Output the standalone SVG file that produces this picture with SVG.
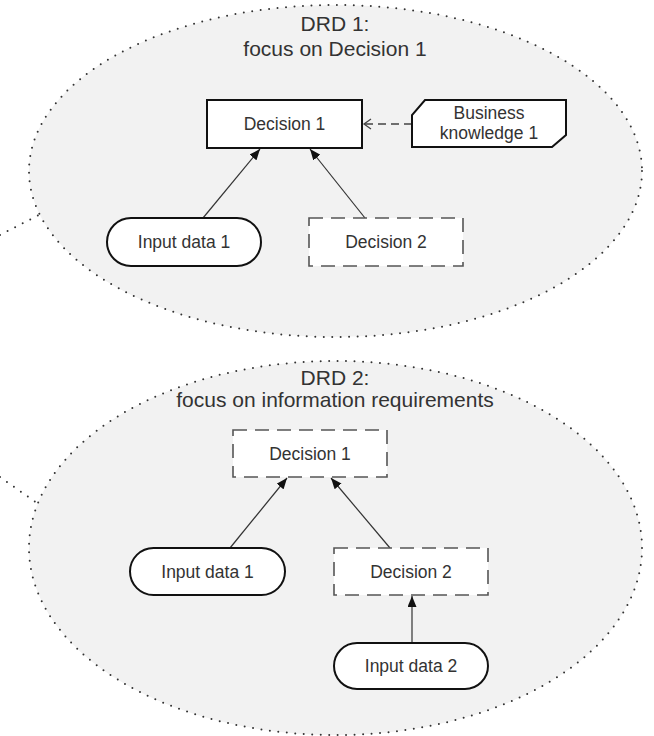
<svg xmlns="http://www.w3.org/2000/svg" width="654" height="736" viewBox="0 0 654 736">
  <defs>
    <marker id="arrow" markerUnits="userSpaceOnUse" markerWidth="12" markerHeight="9" refX="11" refY="4.5" orient="auto">
      <path d="M0,0 L11,4.5 L0,9 z" fill="#111"/>
    </marker>
    <marker id="open" markerUnits="userSpaceOnUse" markerWidth="10" markerHeight="12" refX="8" refY="6" orient="auto">
      <path d="M1,1 L8,6 L1,11" fill="none" stroke="#444" stroke-width="1.3"/>
    </marker>
    <style>
      .drd { fill: #f2f2f2; stroke: #333; stroke-width: 2; stroke-dasharray: 0 8.5; stroke-linecap: round; }
      .tail { fill: none; stroke: #333; stroke-width: 2; stroke-dasharray: 0 8.5; stroke-linecap: round; }
      .title { font-family: "Liberation Sans", Arial, sans-serif; font-size: 21px; fill: #333; text-anchor: middle; }
      .label { font-family: "Liberation Sans", Arial, sans-serif; font-size: 17.5px; fill: #333; text-anchor: middle; }
      .solid { fill: #fff; stroke: #111; stroke-width: 2; }
      .dashed { fill: #fff; stroke: #555; stroke-width: 1.6; stroke-dasharray: 14 8; }
      .req { fill: none; stroke: #333; stroke-width: 1.2; marker-end: url(#arrow); }
      .kreq { fill: none; stroke: #444; stroke-width: 1.5; stroke-dasharray: 8 5; marker-end: url(#open); }
    </style>
  </defs>

  <!-- DRD 1 -->
  <g id="drd1">
    <polyline class="tail" points="0,235 39,215"/>
    <ellipse class="drd" cx="335.5" cy="171" rx="306.5" ry="166"/>
    <text class="title" x="335" y="31">DRD 1:</text>
    <text class="title" x="335" y="56">focus on Decision 1</text>
  </g>

  <!-- DRD 2 -->
  <g id="drd2">
    <polyline class="tail" points="0,477 37,503"/>
    <ellipse class="drd" cx="335.5" cy="548" rx="306.5" ry="187"/>
    <text class="title" x="335" y="385">DRD 2:</text>
    <text class="title" x="335" y="407">focus on information requirements</text>
  </g>

  <!-- connectors -->
  <g id="connectors">
    <line class="kreq" x1="412" y1="124" x2="364" y2="124"/>
    <line class="req" x1="203" y1="218" x2="260" y2="149"/>
    <line class="req" x1="365" y1="218" x2="310" y2="149"/>
    <line class="req" x1="230" y1="548" x2="287" y2="478"/>
    <line class="req" x1="390" y1="548" x2="331" y2="478"/>
    <line class="req" x1="412" y1="643" x2="412" y2="596"/>
  </g>

  <!-- DRD 1 nodes -->
  <g id="d1-decision1">
    <rect class="solid" x="207" y="100" width="155" height="48"/>
    <text class="label" x="284.5" y="130">Decision 1</text>
  </g>
  <g id="d1-bkm1">
    <path class="solid" d="M425,100 L566,100 L566,135 L552,147 L412,147 L412,115 Z"/>
    <text class="label" x="489" y="119">Business</text>
    <text class="label" x="489" y="139">knowledge 1</text>
  </g>
  <g id="d1-input1">
    <rect class="solid" x="107" y="218" width="154" height="48" rx="24" ry="24"/>
    <text class="label" x="184" y="248">Input data 1</text>
  </g>
  <g id="d1-decision2">
    <rect class="dashed" x="309" y="218" width="154" height="48"/>
    <text class="label" x="386" y="248">Decision 2</text>
  </g>

  <!-- DRD 2 nodes -->
  <g id="d2-decision1">
    <rect class="dashed" x="233" y="430" width="154" height="47"/>
    <text class="label" x="310" y="459.5">Decision 1</text>
  </g>
  <g id="d2-input1">
    <rect class="solid" x="130" y="548" width="155" height="47" rx="23.5" ry="23.5"/>
    <text class="label" x="207.5" y="577.5">Input data 1</text>
  </g>
  <g id="d2-decision2">
    <rect class="dashed" x="334" y="548" width="154" height="47"/>
    <text class="label" x="411" y="577.5">Decision 2</text>
  </g>
  <g id="d2-input2">
    <rect class="solid" x="334" y="643" width="154" height="46" rx="23" ry="23"/>
    <text class="label" x="411" y="672">Input data 2</text>
  </g>
</svg>
